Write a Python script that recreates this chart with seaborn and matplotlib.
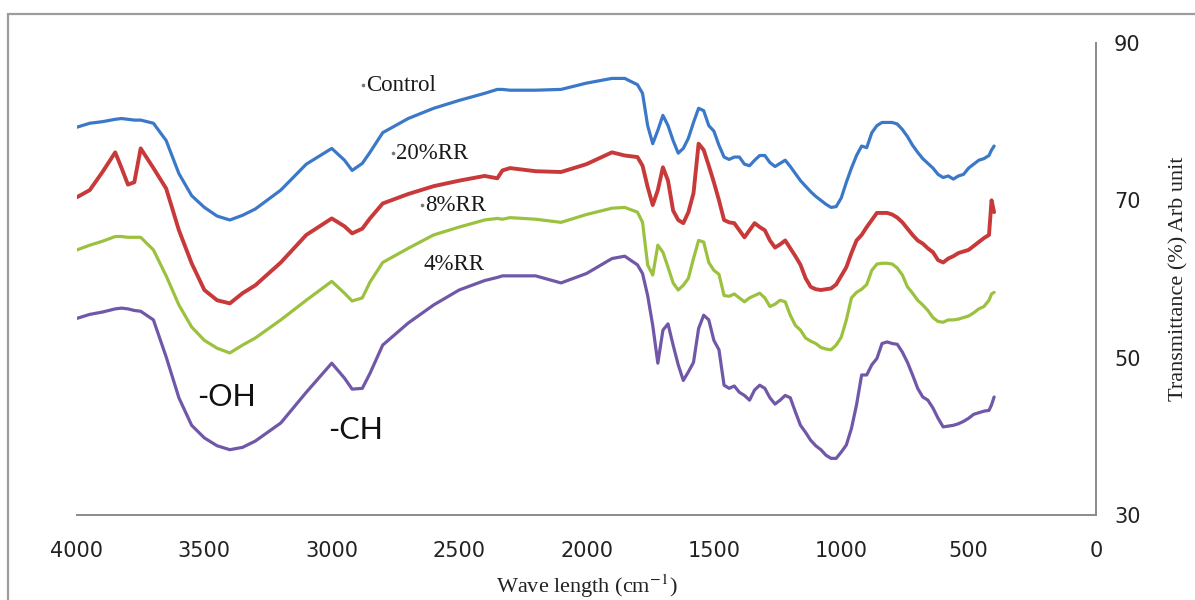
import matplotlib
matplotlib.use("Agg")
import matplotlib.pyplot as plt
import pandas as pd
import seaborn as sns
from matplotlib.patches import Rectangle

# FTIR spectra: wavenumber (cm-1) and transmittance (%) for each sample
wavenumber = [
    4000, 3950, 3900, 3850, 3825, 3800, 3775, 3750, 3700, 3650,
    3600, 3550, 3500, 3450, 3400, 3350, 3300, 3200, 3100, 3000,
    2950, 2920, 2880, 2850, 2800, 2700, 2600, 2500, 2400, 2350,
    2330, 2300, 2200, 2100, 2000, 1900, 1850, 1800, 1780, 1760,
    1740, 1720, 1700, 1680, 1660, 1640, 1620, 1600, 1580, 1560,
    1540, 1520, 1500, 1480, 1460, 1440, 1420, 1400, 1380, 1360,
    1340, 1320, 1300, 1280, 1260, 1240, 1220, 1200, 1180, 1160,
    1140, 1120, 1100, 1080, 1060, 1040, 1020, 1000, 980, 960,
    940, 920, 900, 880, 860, 840, 820, 800, 780, 760,
    740, 720, 700, 680, 660, 640, 620, 600, 580, 560,
    540, 520, 500, 480, 460, 440, 420, 410, 400,
]

control = [
    79.3, 79.8, 80.0, 80.3, 80.4, 80.3, 80.2, 80.2, 79.8, 77.6,
    73.4, 70.6, 69.1, 68.0, 67.5, 68.1, 68.9, 71.3, 74.6, 76.6,
    75.1, 73.8, 74.7, 76.1, 78.6, 80.4, 81.7, 82.7, 83.6, 84.1,
    84.1, 84.0, 84.0, 84.1, 84.9, 85.5, 85.5, 84.7, 83.6, 79.5,
    77.2, 78.9, 80.8, 79.5, 77.6, 76.0, 76.6, 77.9, 79.9, 81.7,
    81.4, 79.5, 78.8, 77.0, 75.5, 75.2, 75.5, 75.5, 74.6, 74.4,
    75.1, 75.7, 75.7, 74.8, 74.3, 74.7, 75.1, 74.3, 73.4, 72.5,
    71.8, 71.1, 70.5, 70.0, 69.5, 69.1, 69.2, 70.3, 72.3, 74.1,
    75.7, 76.9, 76.7, 78.6, 79.5, 79.9, 79.9, 79.9, 79.7, 79.0,
    78.1, 77.0, 76.1, 75.3, 74.7, 74.1, 73.3, 72.9, 73.1, 72.7,
    73.1, 73.3, 74.1, 74.6, 75.1, 75.3, 75.7, 76.4, 76.9,
]

rr20 = [
    70.4, 71.3, 73.6, 76.1, 74.1, 72.0, 72.3, 76.6, 74.1, 71.5,
    66.2, 62.0, 58.6, 57.3, 56.9, 58.2, 59.2, 62.1, 65.6, 67.7,
    66.7, 65.8, 66.4, 67.7, 69.6, 70.8, 71.8, 72.5, 73.1, 72.8,
    73.8, 74.1, 73.7, 73.6, 74.6, 76.1, 75.7, 75.5, 74.4, 71.7,
    69.4, 71.3, 74.2, 72.5, 68.7, 67.5, 67.1, 68.5, 70.9, 77.2,
    76.4, 74.4, 72.3, 70.0, 67.5, 67.2, 67.1, 66.2, 65.3, 66.2,
    67.1, 66.6, 66.2, 64.9, 64.0, 64.4, 64.9, 63.9, 62.9, 61.8,
    60.1, 59.0, 58.7, 58.6, 58.7, 58.8, 59.3, 60.4, 61.5, 63.3,
    64.9, 65.6, 66.6, 67.5, 68.4, 68.4, 68.4, 68.2, 67.8, 67.2,
    66.4, 65.6, 64.9, 64.5, 63.9, 63.4, 62.4, 62.1, 62.6, 62.9,
    63.3, 63.5, 63.7, 64.2, 64.7, 65.2, 65.6, 70.0, 68.5,
]

rr8 = [
    63.7, 64.3, 64.8, 65.4, 65.4, 65.3, 65.3, 65.3, 63.7, 60.4,
    56.7, 53.9, 52.2, 51.2, 50.6, 51.6, 52.5, 54.8, 57.3, 59.7,
    58.2, 57.2, 57.6, 59.6, 62.1, 63.9, 65.6, 66.6, 67.5, 67.7,
    67.6, 67.8, 67.6, 67.2, 68.2, 69.0, 69.1, 68.5, 67.2, 61.8,
    60.5, 64.3, 63.4, 61.5, 59.5, 58.6, 59.2, 60.1, 62.6, 64.9,
    64.7, 62.1, 61.1, 60.6, 57.9, 57.8, 58.1, 57.6, 57.1, 57.6,
    57.9, 58.2, 57.6, 56.5, 56.8, 57.3, 57.1, 55.4, 54.1, 53.5,
    52.5, 52.1, 51.8, 51.3, 51.1, 51.0, 51.6, 52.6, 54.8, 57.6,
    58.3, 58.7, 59.3, 61.1, 61.9, 62.0, 62.0, 61.9, 61.4, 60.5,
    59.0, 58.2, 57.3, 56.7, 56.0, 55.1, 54.6, 54.5, 54.8, 54.8,
    54.9, 55.1, 55.3, 55.7, 56.2, 56.5, 57.3, 58.1, 58.3,
]

rr4 = [
    55.0, 55.5, 55.8, 56.2, 56.3, 56.2, 56.0, 55.9, 54.8, 50.1,
    44.9, 41.4, 39.8, 38.8, 38.3, 38.6, 39.4, 41.7, 45.6, 49.3,
    47.4, 46.0, 46.1, 48.0, 51.6, 54.4, 56.7, 58.6, 59.8, 60.2,
    60.4, 60.4, 60.4, 59.5, 60.7, 62.6, 62.9, 61.8, 60.7, 57.9,
    54.1, 49.3, 53.5, 54.3, 51.6, 49.1, 47.1, 48.2, 49.4, 53.7,
    55.4, 54.8, 52.2, 51.0, 46.5, 46.1, 46.4, 45.6, 45.2, 44.6,
    45.9, 46.5, 46.1, 44.9, 44.1, 44.6, 45.2, 44.9, 43.1, 41.4,
    40.5, 39.5, 38.8, 38.3, 37.6, 37.2, 37.2, 38.0, 38.9, 41.0,
    44.0, 47.8, 47.8, 49.1, 49.9, 51.8, 52.0, 51.8, 51.7, 50.7,
    49.4, 47.8, 46.1, 45.0, 44.6, 43.6, 42.3, 41.2, 41.3, 41.4,
    41.6, 41.9, 42.3, 42.8, 43.0, 43.2, 43.3, 44.0, 45.0,
]

series_names = ["Control", "20%RR", "8%RR", "4%RR"]
series_colors = ["#3B78C8", "#C8393A", "#9CC13F", "#7157A8"]

# in-plot series labels (wavenumber, transmittance) and whether a leader dot is shown
label_x = [2865, 2747, 2633, 2641]
label_y = [84.6, 76.0, 69.4, 61.8]
label_dot = [True, True, True, False]

# band annotations
band_text = ["-OH", "-CH"]
band_x = [3415, 2908]
band_y = [45.0, 40.8]

x_ticks = [4000, 3500, 3000, 2500, 2000, 1500, 1000, 500, 0]
y_ticks = [30, 50, 70, 90]

sns.set_theme(style="white")
plt.rcParams["font.family"] = ["DejaVu Sans"]
plt.rcParams["mathtext.fontset"] = "stix"

frames = []
for name, values in zip(series_names, [control, rr20, rr8, rr4]):
    frames.append(pd.DataFrame({"wavenumber": wavenumber,
                                "transmittance": values,
                                "sample": name}))
spectra = pd.concat(frames, ignore_index=True)

W, H = 1195, 600
fig = plt.figure(figsize=(W / 100, H / 100), dpi=100)
fig.patch.set_facecolor("white")
ax = fig.add_axes([77 / W, 85 / H, (1096 - 77) / W, (515 - 43) / H])

sns.lineplot(data=spectra, x="wavenumber", y="transmittance", hue="sample",
             hue_order=series_names, palette=dict(zip(series_names, series_colors)),
             estimator=None, sort=False, linewidth=2.3, legend=False, ax=ax)
for line in ax.get_lines():
    line.set_solid_joinstyle("round")
ax.get_lines()[1].set_linewidth(2.8)

ax.set_xlim(4000, 0)
ax.set_ylim(30, 90)
ax.set_xticks(x_ticks)
ax.set_yticks(y_ticks)
ax.yaxis.tick_right()
ax.yaxis.set_label_position("right")

for side in ("left", "top"):
    ax.spines[side].set_visible(False)
for side in ("right", "bottom"):
    ax.spines[side].set_visible(True)
    ax.spines[side].set_color("#8a8a8a")
    ax.spines[side].set_linewidth(1.4)

ax.tick_params(axis="x", length=0, pad=19, labelsize=15, labelcolor="#222222")
ax.tick_params(axis="y", length=0, pad=13, labelsize=15, labelcolor="#222222")

ax.set_xlabel("Wave length (cm$^{-1}$)", fontsize=16, family="Liberation Serif",
              color="#222222")
ax.xaxis.set_label_coords(0.5, -0.122)
ax.set_ylabel("Transmittance (%) Arb unit", fontsize=16, family="Liberation Serif",
              color="#222222", rotation=90)
ax.yaxis.label.set_verticalalignment("center")
ax.yaxis.set_label_coords(1.081, 0.5)

for name, lx, ly, dot in zip(series_names, label_x, label_y, label_dot):
    ax.text(lx, ly, name, fontsize=16.5, family="Liberation Serif", color="#1a1a1a",
            ha="left", va="center")
    if dot:
        ax.plot([lx + 12], [ly], marker="o", markersize=1.6, color="#777777")

for txt, bx, by in zip(band_text, band_x, band_y):
    ax.text(bx, by, txt, fontsize=22, family="Lato", color="#111111",
            ha="center", va="center")

# outer chart frame
fig.patches.append(Rectangle((8 / W, -0.1), 1.2, 1 - 14 / H + 0.1,
                             transform=fig.transFigure, fill=False,
                             edgecolor="#9c9c9c", linewidth=1.6, zorder=0))

fig.savefig("out.png", dpi=100, facecolor="white")
